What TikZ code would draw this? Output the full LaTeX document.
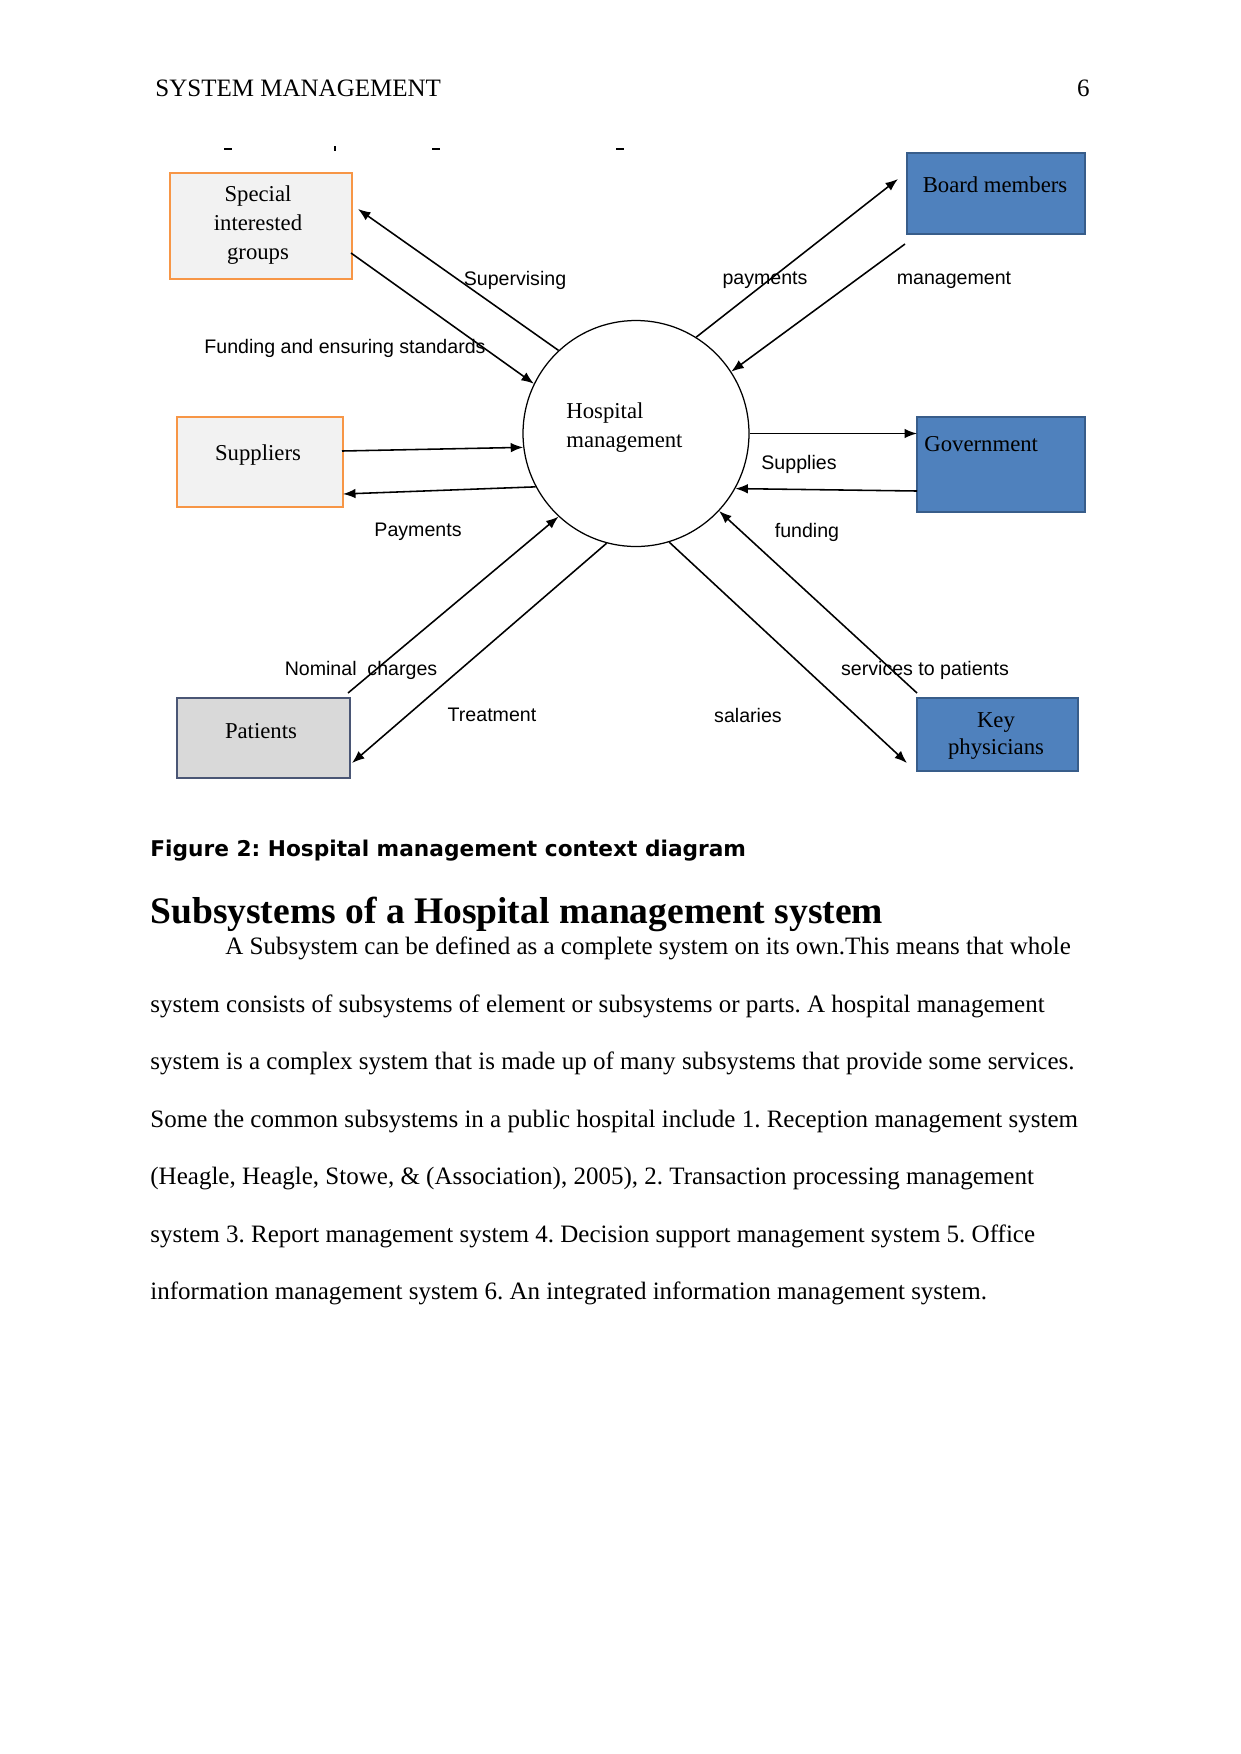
\documentclass[tikz,border=0pt]{standalone}
\usepackage{fontspec}
\setmainfont{Liberation Serif}
\newfontfamily\labelfont{Liberation Sans}
\newfontfamily\capfont{DejaVu Sans}
\usetikzlibrary{arrows.meta}
\frenchspacing

\definecolor{boxorange}{HTML}{F79646}
\definecolor{boxgray}{HTML}{F2F2F2}
\definecolor{boxblue}{HTML}{4F81BD}
\definecolor{blueline}{HTML}{385D8A}
\definecolor{patgray}{HTML}{D9D9D9}
\definecolor{patline}{HTML}{4A5675}

\def\px{0.47967pt}

\tikzset{
  entity/.style={rectangle, inner sep=0pt, line width=0.8pt},
  outside/.style={entity, draw=boxorange, fill=boxgray},
  inside/.style={entity, draw=blueline, fill=boxblue},
  patbox/.style={entity, draw=patline, fill=patgray},
  boxtext/.style={inner sep=0pt, font=\fontsize{10.9}{13.9}\selectfont},
  flowlabel/.style={inner sep=0pt, font=\labelfont\fontsize{9.4}{11}\selectfont},
  flow/.style={-{Latex[length=6pt,width=4.6pt]}, line width=0.75pt},
  bodyline/.style={anchor=west, inner sep=0pt, text height=0.7em, text depth=0.2em,
    font=\fontsize{12}{14}\selectfont}
}

\begin{document}
\begin{tikzpicture}[x=\px, y=-\px]
    % --- 1. page ---
    \fill[white] (0,0) rectangle (1241,1754);
    \useasboundingbox (0,0) rectangle (1241,1754);

    \node[bodyline] (head) at (155,91) {SYSTEM MANAGEMENT};
    \node[bodyline, anchor=east] (pageno) at (1090,91) {6};

    % --- 2. cut-off marks above the figure ---
    \foreach \x in {228,436,620}
      \draw[line width=1pt] (\x-4,149) -- (\x+4,149);
    \draw[line width=1pt] (335,146) -- (335,151);

    % --- 3. hospital (centre) ---
    \node[circle, draw, line width=0.6pt, minimum size=226*\px, inner sep=0pt] (hosp) at (636,433.5) {};
    \node[boxtext, anchor=west, align=left] (hosptxt) at (566,428) {Hospital\\management};

    % --- 4. outside entities ---
    \node[outside, minimum width=182*\px, minimum height=106*\px] (special) at (261,226) {};
    \node[outside, minimum width=166*\px, minimum height=90*\px] (suppliers) at (260,462) {};
    \node[patbox, minimum width=173*\px, minimum height=80*\px] (patients) at (263.5,738) {};
    \node[inside, minimum width=178*\px, minimum height=81*\px] (board) at (996,193.5) {};
    \node[inside, minimum width=168*\px, minimum height=95*\px] (govt) at (1001,464.5) {};
    \node[inside, minimum width=161*\px, minimum height=73*\px] (keyphys) at (997.5,734.5) {};

    \node[boxtext, align=center] (specialtxt) at (258,225) {Special\\interested\\groups};
    \node[boxtext] (supplierstxt) at (258,455) {Suppliers};
    \node[boxtext] (patientstxt) at (261,731) {Patients};
    \node[boxtext] (boardtxt) at (995,185) {Board members};
    \node[boxtext, anchor=west] (govttxt) at (924,444) {Government};
    \node[boxtext, align=center, font=\fontsize{10.9}{13.4}\selectfont] (keyphystxt) at (996,736) {Key\\physicians};

    % --- 5. free ends of the flows ---
    \coordinate (sp-in) at (358,209);
    \coordinate (sp-out) at (351,253);
    \coordinate (su-out) at (342,451);
    \coordinate (su-in) at (343,494);
    \coordinate (bo-in) at (898,179);
    \coordinate (bo-out) at (905,244);
    \coordinate (go-in) at (917,433.5);
    \coordinate (go-out) at (917,491);
    \coordinate (pa-out) at (348,693);
    \coordinate (pa-in) at (352,763);
    \coordinate (ke-out) at (917,693);
    \coordinate (ke-in) at (907,763);

    % --- 6. flows ---
    \draw[flow] (hosp.133) -- (sp-in);
    \draw[flow] (sp-out) -- (hosp.154);
    \draw[flow] (su-out) -- (hosp.187);
    \draw[flow] (hosp.208) -- (su-in);
    \draw[flow] (hosp.58) -- (bo-in);
    \draw[flow] (bo-out) -- (hosp.33);
    \draw[flow] (hosp.0) -- (go-in);
    \draw[flow] (go-out) -- (hosp.-29);
    \draw[flow] (pa-out) -- (hosp.227);
    \draw[flow] (hosp.255) -- (pa-in);
    \draw[flow] (ke-out) -- (hosp.-43);
    \draw[flow] (hosp.-73) -- (ke-in);

    % --- 7. flow labels ---
    \node[flowlabel] (l-superv) at (515,280) {Supervising};
    \node[flowlabel] (l-fund) at (345,348) {Funding and ensuring standards};
    \node[flowlabel] (l-paym) at (765,280) {payments};
    \node[flowlabel] (l-mgmt) at (954,280) {management};
    \node[flowlabel] (l-suppl) at (799,464) {Supplies};
    \node[flowlabel] (l-payments) at (418,532) {Payments};
    \node[flowlabel] (l-funding) at (807,532) {funding};
    \node[flowlabel] (l-nominal) at (361,670) {Nominal\ \ charges};
    \node[flowlabel] (l-treat) at (492,715) {Treatment};
    \node[flowlabel] (l-serv) at (925,670) {services to patients};
    \node[flowlabel] (l-sal) at (748,715) {salaries};

    % --- 8. caption, heading and text ---
    \node[anchor=west, inner sep=0pt, font=\capfont\bfseries\fontsize{10.4}{12}\selectfont] (caption) at (150,851) {Figure 2: Hospital management context diagram};
    \node[anchor=west, inner sep=0pt, font=\bfseries\fontsize{18}{22}\selectfont] (heading) at (150,914) {Subsystems of a Hospital management system};

    \node[bodyline] (t1) at (225,949) {A Subsystem can be defined as a complete system on its own.This means that whole};
    \node[bodyline] (t2) at (150,1007) {system consists of subsystems of element or subsystems or parts. A hospital management};
    \node[bodyline] (t3) at (150,1064) {system is a complex system that is made up of many subsystems that provide some services.};
    \node[bodyline] (t4) at (150,1122) {Some the common subsystems in a public hospital include 1. Reception management system};
    \node[bodyline] (t5) at (150,1179) {(Heagle, Heagle, Stowe, \& (Association), 2005), 2. Transaction processing management};
    \node[bodyline] (t6) at (150,1237) {system 3. Report management system 4. Decision support management system 5. Office};
    \node[bodyline] (t7) at (150,1294) {information management system 6. An integrated information management system.};

\end{tikzpicture}
\end{document}
